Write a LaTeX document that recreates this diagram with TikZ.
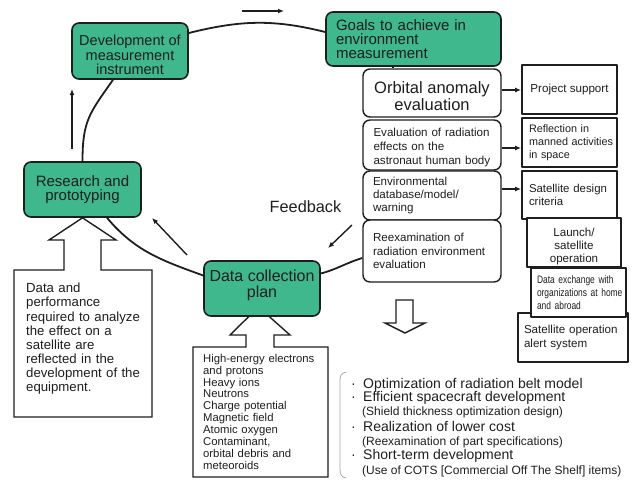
\documentclass[tikz,border=0pt]{standalone}
\usepackage{fontspec}
\setmainfont{Liberation Sans}
\newfontfamily\narrowfont[FakeStretch=0.78]{Liberation Sans}
\usetikzlibrary{arrows.meta}
\definecolor{boxgreen}{RGB}{64,184,142}
\definecolor{ink}{RGB}{30,30,30}
\newcommand\fsz[2]{\fontsize{#1}{#2}\selectfont}
\begin{document}
\begin{tikzpicture}[x=1pt,y=1pt,line join=round,
  gbox/.style={draw=ink, line width=1.6pt, fill=boxgreen, rounded corners=7pt, inner sep=0pt, align=center, text=ink},
  wbox/.style={draw=ink, line width=1.4pt, fill=white, rounded corners=7pt, inner sep=0pt, text=ink},
  sbox/.style={draw=ink, line width=1.8pt, fill=white, inner sep=0pt, text=ink},
  ring/.style={line width=1.8pt, draw=ink},
  arr/.style={line width=1.4pt, draw=ink, -{Latex[length=6pt,width=5pt]}},
  hollow/.style={draw=ink, line width=1.4pt, fill=white, line join=miter},
  plain/.style={inner sep=0pt, text=ink}]
\useasboundingbox (0,0) rectangle (634,-479);

% hollow arrow + parameter box under "Data collection plan"
\draw[hollow] (258.5,-307) -- (290,-335) -- (274,-335) -- (274,-347) -- (328,-347) -- (328,-477)
  -- (193,-477) -- (193,-347) -- (246,-347) -- (246,-335) -- (230,-335) -- cycle;

% green boxes
\node[gbox, minimum width=116pt, minimum height=56pt] (dev) at (130,-51) {};
\node[plain, align=center, font=\fsz{14.5}{14.5}] (devtext) at ([yshift=-4pt]dev.center) {Development of\\measurement\\instrument};
\node[gbox, minimum width=175pt, minimum height=54pt, text width=155pt, inner xsep=10pt, align=left, font=\fsz{15}{14.2}] (goals) at (413.5,-39) {Goals to achieve in\\environment\\measurement};
\node[gbox, minimum width=117pt, minimum height=55pt, font=\fsz{15}{14.3}] (research) at (82.5,-189.5) {Research and\\prototyping};
\node[gbox, minimum width=116pt, minimum height=55pt] (collect) at (262,-288.5) {};
\node[plain, align=center, font=\fsz{16}{15.5}] (collecttext) at ([yshift=3pt]collect.center) {Data collection\\plan};

% white rounded boxes
\node[wbox, minimum width=138pt, minimum height=48pt] (orbital) at (432,-93) {};
\node[plain, align=center, font=\fsz{16.5}{15}] (orbtext) at ([yshift=-3pt]orbital.center) {Orbital anomaly\\evaluation};
\node[wbox, minimum width=138pt, minimum height=50pt] (radeval) at (432,-145) {};
\node[plain, anchor=west, text width=118pt, align=left, font=\fsz{11.6}{13.8}] (radtext) at ([xshift=11pt,yshift=-2.5pt]radeval.west) {Evaluation of radiation\\effects on the\\astronaut human body};
\node[wbox, minimum height=49pt, text width=118pt, inner xsep=10pt, align=left, font=\fsz{11.6}{13.3}] (envdb) at (432,-195.5) {Environmental\\database/model/\\warning};
\node[wbox, minimum height=62pt, text width=118pt, inner xsep=10pt, align=left, font=\fsz{11.6}{13.3}] (reexam) at (432,-251) {Reexamination of\\radiation environment\\evaluation};

% square boxes on the right
\node[sbox, minimum width=95pt, minimum height=49pt, font=\fsz{11.6}{13.5}] (support) at (569.5,-89.5) {Project support};
\node[sbox, minimum height=49pt, text width=81pt, inner xsep=7pt, align=left, font=\fsz{10.8}{13.2}] (manned) at (569.5,-142.5) {\mbox{Reflection in}\\\mbox{manned activities}\\\mbox{in space}};
\node[sbox, minimum height=48pt, text width=81pt, inner xsep=7pt, align=left, font=\fsz{11.4}{13.5}] (design) at (569.5,-195) {\mbox{Satellite design}\\criteria};
\node[sbox, minimum width=94pt, minimum height=49pt] (launch) at (574,-242.5) {};
\node[plain, align=center, font=\fsz{11.6}{13.2}] (launchtext) at ([yshift=-4pt]launch.center) {Launch/\\satellite\\operation};
\node[sbox, minimum height=49pt, text width=98pt, inner xsep=6pt, align=left, font=\fsz{11.6}{14}] (alert) at (573,-337.5) {\mbox{Satellite operation}\\alert system};
\node[sbox, minimum height=49pt, text width=83pt, inner xsep=6pt, align=left, font=\narrowfont\fsz{10.8}{12.8}] (exchange) at (578.5,-292.5) {\mbox{Data exchange with}\\\mbox{organizations at home}\\\mbox{and abroad}};

% the cycle
\draw[ring] (research.north) to[out=90,in=235,looseness=1.2] ([xshift=-17pt]dev.south);
\draw[ring] ([yshift=18pt]dev.east) to[out=14,in=166] ([yshift=7pt]goals.west);
\draw[ring] ([xshift=-20.5pt]goals.south) -- ([xshift=-39pt]orbital.north);
\draw[ring] ([yshift=-7pt]reexam.west) to[out=197,in=15] ([yshift=15pt]collect.east);
\draw[ring] ([yshift=13pt]collect.west) to[out=160,in=-50] ([xshift=24.5pt]research.south);

% free arrows
\coordinate (topA) at (242,-11); \coordinate (topB) at (284,-11);
\coordinate (upA) at (72,-149); \coordinate (upB) at (72,-89);
\coordinate (backA) at (187,-255); \coordinate (backB) at (152,-218);
\coordinate (fdA) at (352,-225); \coordinate (fdB) at (328,-248);
\draw[arr] (topA) -- (topB);
\draw[arr] (upA) -- (upB);
\draw[arr] (backA) -- (backB);
\draw[arr] (fdA) -- (fdB);
\node[plain, font=\fsz{16.3}{16}] (feedback) at (305.5,-207) {Feedback};

% links to the right column
\coordinate (o1) at ([yshift=3pt]orbital.east);
\coordinate (o2) at ([yshift=-3pt]radeval.east);
\coordinate (o3) at ([yshift=6.5pt]envdb.east);
\draw[arr] (o1) -- (o1 -| support.west);
\draw[arr] (o2) -- (o2 -| manned.west);
\draw[arr] (o3) -- (o3 -| design.west);

% hollow arrow + text box under "Research and prototyping"
\draw[hollow] (research.south) -- (116,-240) -- (101,-240) -- (101,-270) -- (152,-270) -- (152,-417)
  -- (14,-417) -- (14,-270) -- (64,-270) -- (64,-240) -- (49,-240) -- cycle;
\node[plain, anchor=north west, text width=130pt, align=left, font=\fsz{13.2}{14.15}] (perf) at (26,-283)
  {Data and\\performance\\required to analyze\\the effect on a\\satellite are\\reflected in the\\development of the\\equipment.};

\node[plain, anchor=north west, text width=125pt, align=left, font=\fsz{11.3}{11.85}] (params) at (203,-354)
  {High-energy electrons\\and protons\\Heavy ions\\Neutrons\\Charge potential\\Magnetic field\\Atomic oxygen\\Contaminant,\\orbital debris and\\meteoroids};

% down hollow arrow
\draw[hollow] (396,-300) -- (413,-300) -- (413,-323) -- (425,-323) -- (405,-333) -- (385,-323) -- (396,-323) -- cycle;

% bracket and list of benefits
\draw[gray!70, line width=0.8pt] (346,-372) .. controls (341,-373) and (340,-376) .. (340,-381) -- (340,-469)
  .. controls (340,-474) and (341,-477) .. (346,-478);
\node[plain, anchor=base west, font=\fsz{14}{14}] (b1) at (351,-388) {\makebox[12pt][l]{·}Optimization of radiation belt model};
\node[plain, anchor=base west, font=\fsz{14}{14}] (b2) at (351,-401.5) {\makebox[12pt][l]{·}Efficient spacecraft development};
\node[plain, anchor=base west, font=\fsz{12}{12}] (b2s) at (362,-415) {(Shield thickness optimization design)};
\node[plain, anchor=base west, font=\fsz{14}{14}] (b3) at (351,-431.5) {\makebox[12pt][l]{·}Realization of lower cost};
\node[plain, anchor=base west, font=\fsz{12}{12}] (b3s) at (362,-445) {(Reexamination of part specifications)};
\node[plain, anchor=base west, font=\fsz{14}{14}] (b4) at (351,-459.5) {\makebox[12pt][l]{·}Short-term development};
\node[plain, anchor=base west, font=\fsz{12}{12}] (b4s) at (362,-474) {(Use of COTS [Commercial Off The Shelf] items)};
\end{tikzpicture}
\end{document}
